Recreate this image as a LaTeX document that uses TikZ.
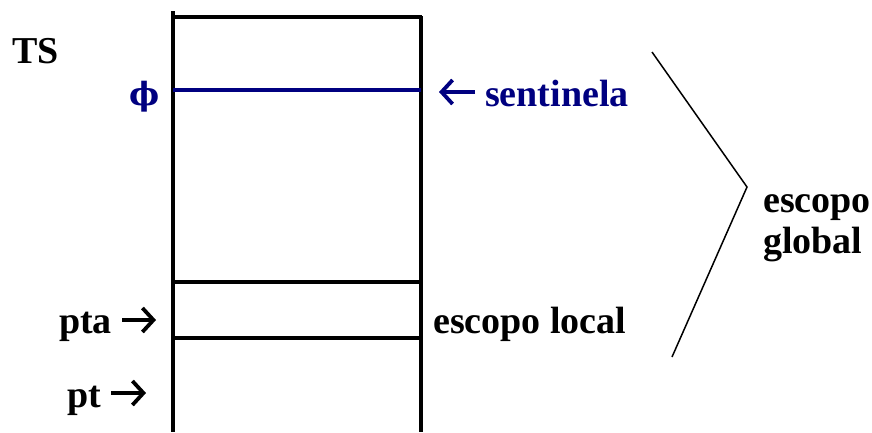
\documentclass[tikz,border=0pt]{standalone}
\usepackage{fontspec}
\setmainfont{Liberation Serif}
\newfontfamily\phifont{DejaVu Serif}
\usetikzlibrary{arrows.meta,positioning}
\definecolor{navy}{RGB}{0,0,128}
\begin{document}
\begin{tikzpicture}[x=1pt,y=-1pt,
  lbl/.style={font=\fontsize{38}{41}\selectfont\bfseries,inner xsep=10pt,inner ysep=0pt},
  ptr/.style={line width=3.8pt,-{Straight Barb[length=11pt,width=24pt]}},
  cell/.style={line width=3.2pt}]
  \useasboundingbox (0,0) rectangle (872,432);

  % a pilha
  \draw[cell] (173,11) -- (173,432);
  \draw[cell] (421,16) -- (421,432);
  \draw[cell] (172,17) -- (422,17);
  \draw[cell] (172,282) -- (422,282);
  \draw[cell] (172,338) -- (422,338);
  \draw[cell,navy] (173,90) -- (421,90);

  \node[lbl,anchor=base west,inner xsep=0pt] (ts) at (12,63) {TS};
  \node[navy,inner sep=0pt,font=\phifont\bfseries\fontsize{32}{34}\selectfont] (phi) at (145,97) {ϕ};

  \node[lbl,anchor=base west] (pta) at (49,333) {pta};
  \node[lbl,anchor=base west] (pt) at (57,407) {pt};
  \coordinate (ptatip) at (156,320);
  \coordinate (pttip) at (146,393);
  \draw[ptr] (pta.east |- ptatip) -- (ptatip);
  \draw[ptr] (pt.east |- pttip) -- (pttip);

  \node[lbl,navy,anchor=base west] (sent) at (475,106) {sentinela};
  \coordinate (senttip) at (439,92);
  \draw[ptr,navy] (sent.west |- senttip) -- (senttip);

  \node[lbl,anchor=base west] (local) at (423,333) {escopo local};

  % escopo global
  \coordinate (gtop) at (652,52);
  \coordinate (gmid) at (747,187);
  \coordinate (gbot) at (672,357);
  \draw[line width=1.5pt] (gtop) -- (gmid) -- (gbot);
  \node[lbl,anchor=base west,align=left] (global) at (753,253) {escopo\\global};
\end{tikzpicture}
\end{document}
